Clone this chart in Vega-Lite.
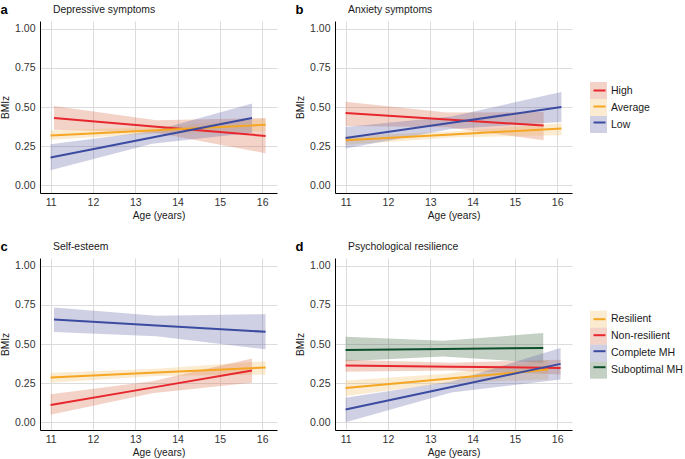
{
  "$schema": "https://vega.github.io/schema/vega-lite/v6.json",
  "padding": {"left": 0, "top": 3, "right": 0, "bottom": 0},
  "data": {"values": [
    {"p": "a", "g": "High", "x": 11.08, "y": 0.43, "lo": 0.354, "hi": 0.506},
    {"p": "a", "g": "High", "x": 13.5, "y": 0.374, "lo": 0.335, "hi": 0.415},
    {"p": "a", "g": "High", "x": 16.08, "y": 0.315, "lo": 0.204, "hi": 0.43},
    {"p": "a", "g": "Average", "x": 11.0, "y": 0.317, "lo": 0.29, "hi": 0.35},
    {"p": "a", "g": "Average", "x": 13.5, "y": 0.351, "lo": 0.33, "hi": 0.372},
    {"p": "a", "g": "Average", "x": 16.08, "y": 0.387, "lo": 0.345, "hi": 0.425},
    {"p": "a", "g": "Low", "x": 11.0, "y": 0.177, "lo": 0.096, "hi": 0.262},
    {"p": "a", "g": "Low", "x": 13.4, "y": 0.305, "lo": 0.265, "hi": 0.345},
    {"p": "a", "g": "Low", "x": 15.76, "y": 0.43, "lo": 0.336, "hi": 0.523},
    {"p": "b", "g": "High", "x": 11.0, "y": 0.462, "lo": 0.379, "hi": 0.534},
    {"p": "b", "g": "High", "x": 13.4, "y": 0.42, "lo": 0.37, "hi": 0.465},
    {"p": "b", "g": "High", "x": 15.68, "y": 0.381, "lo": 0.287, "hi": 0.468},
    {"p": "b", "g": "Average", "x": 11.0, "y": 0.287, "lo": 0.257, "hi": 0.315},
    {"p": "b", "g": "Average", "x": 13.5, "y": 0.324, "lo": 0.305, "hi": 0.343},
    {"p": "b", "g": "Average", "x": 16.1, "y": 0.362, "lo": 0.319, "hi": 0.396},
    {"p": "b", "g": "Low", "x": 11.0, "y": 0.302, "lo": 0.234, "hi": 0.372},
    {"p": "b", "g": "Low", "x": 13.5, "y": 0.399, "lo": 0.36, "hi": 0.44},
    {"p": "b", "g": "Low", "x": 16.1, "y": 0.5, "lo": 0.404, "hi": 0.596},
    {"p": "c", "g": "Low", "x": 11.08, "y": 0.657, "lo": 0.576, "hi": 0.733},
    {"p": "c", "g": "Low", "x": 13.5, "y": 0.619, "lo": 0.55, "hi": 0.68},
    {"p": "c", "g": "Low", "x": 16.08, "y": 0.578, "lo": 0.466, "hi": 0.691},
    {"p": "c", "g": "Average", "x": 11.0, "y": 0.286, "lo": 0.252, "hi": 0.316},
    {"p": "c", "g": "Average", "x": 13.5, "y": 0.318, "lo": 0.295, "hi": 0.342},
    {"p": "c", "g": "Average", "x": 16.08, "y": 0.35, "lo": 0.305, "hi": 0.39},
    {"p": "c", "g": "High", "x": 11.0, "y": 0.11, "lo": 0.047, "hi": 0.178},
    {"p": "c", "g": "High", "x": 13.4, "y": 0.221, "lo": 0.185, "hi": 0.262},
    {"p": "c", "g": "High", "x": 15.76, "y": 0.331, "lo": 0.252, "hi": 0.407},
    {"p": "d", "g": "Suboptimal MH", "x": 11.0, "y": 0.462, "lo": 0.39, "hi": 0.547},
    {"p": "d", "g": "Suboptimal MH", "x": 13.3, "y": 0.468, "lo": 0.42, "hi": 0.52},
    {"p": "d", "g": "Suboptimal MH", "x": 15.67, "y": 0.475, "lo": 0.379, "hi": 0.57},
    {"p": "d", "g": "Non-resilient", "x": 11.0, "y": 0.362, "lo": 0.322, "hi": 0.4},
    {"p": "d", "g": "Non-resilient", "x": 13.5, "y": 0.355, "lo": 0.33, "hi": 0.38},
    {"p": "d", "g": "Non-resilient", "x": 16.08, "y": 0.347, "lo": 0.305, "hi": 0.4},
    {"p": "d", "g": "Resilient", "x": 11.0, "y": 0.218, "lo": 0.167, "hi": 0.267},
    {"p": "d", "g": "Resilient", "x": 13.4, "y": 0.278, "lo": 0.25, "hi": 0.31},
    {"p": "d", "g": "Resilient", "x": 15.79, "y": 0.337, "lo": 0.273, "hi": 0.4},
    {"p": "d", "g": "Complete MH", "x": 11.0, "y": 0.081, "lo": 0.0, "hi": 0.157},
    {"p": "d", "g": "Complete MH", "x": 13.5, "y": 0.225, "lo": 0.19, "hi": 0.26},
    {"p": "d", "g": "Complete MH", "x": 16.08, "y": 0.373, "lo": 0.273, "hi": 0.475}
  ]},
  "spacing": 19,
  "resolve": {"scale": {"fill": "independent", "stroke": "independent"}, "legend": {"fill": "independent", "stroke": "independent"}},
  "vconcat": [
    {
      "spacing": 18,
      "resolve": {"scale": {"fill": "independent", "stroke": "independent"}, "legend": {"fill": "independent", "stroke": "independent"}},
      "hconcat": [
        {
          "title": {"text": "a"},
          "resolve": {"scale": {"fill": "independent", "stroke": "independent"}, "legend": {"fill": "independent", "stroke": "independent"}},
          "vconcat": [
            {
              "title": {"text": "Depressive symptoms", "fontSize": 10.4, "fontWeight": "normal", "color": "#1a1a1a", "frame": "group", "dx": 13, "offset": 6},
              "width": 237, "height": 172,
              "transform": [{"filter": "datum.p === 'a'"}],
              "layer": [
                {
                  "mark": {"type": "area", "opacity": 0.3},
                  "encoding": {
                    "x": {"field": "x", "type": "quantitative", "scale": {"domain": [10.75, 16.35], "nice": false, "zero": false}, "axis": {"values": [11, 12, 13, 14, 15, 16], "title": "Age (years)"}},
                    "y": {"field": "lo", "type": "quantitative", "scale": {"domain": [-0.05, 1.05], "nice": false, "zero": false}, "axis": {"values": [0, 0.25, 0.5, 0.75, 1], "format": ".2f", "title": "BMIz"}},
                    "y2": {"field": "hi"},
                    "fill": {"field": "g", "type": "nominal", "scale": {"domain": ["Low", "Average", "High"], "range": ["#6262A5", "#F2BC62", "#D76C48"]}, "legend": null}
                  }
                },
                {
                  "mark": {"type": "line", "strokeWidth": 2},
                  "encoding": {
                    "x": {"field": "x", "type": "quantitative", "scale": {"domain": [10.75, 16.35], "nice": false, "zero": false}, "axis": {"values": [11, 12, 13, 14, 15, 16], "title": "Age (years)"}},
                    "y": {"field": "y", "type": "quantitative", "scale": {"domain": [-0.05, 1.05], "nice": false, "zero": false}, "axis": {"values": [0, 0.25, 0.5, 0.75, 1], "format": ".2f", "title": "BMIz"}},
                    "stroke": {"field": "g", "type": "nominal", "scale": {"domain": ["High", "Average", "Low"], "range": ["#E8262D", "#F5A623", "#3B4BA0"]}, "legend": null}
                  }
                }
              ]
            }
          ]
        },
        {
          "title": {"text": "b"},
          "resolve": {"scale": {"fill": "independent", "stroke": "independent"}, "legend": {"fill": "independent", "stroke": "independent"}},
          "vconcat": [
            {
              "title": {"text": "Anxiety symptoms", "fontSize": 10.4, "fontWeight": "normal", "color": "#1a1a1a", "frame": "group", "dx": 13, "offset": 6},
              "width": 237, "height": 172,
              "transform": [{"filter": "datum.p === 'b'"}],
              "layer": [
                {
                  "mark": {"type": "area", "opacity": 0.3},
                  "encoding": {
                    "x": {"field": "x", "type": "quantitative", "scale": {"domain": [10.75, 16.35], "nice": false, "zero": false}, "axis": {"values": [11, 12, 13, 14, 15, 16], "title": "Age (years)"}},
                    "y": {"field": "lo", "type": "quantitative", "scale": {"domain": [-0.05, 1.05], "nice": false, "zero": false}, "axis": {"values": [0, 0.25, 0.5, 0.75, 1], "format": ".2f", "title": "BMIz"}},
                    "y2": {"field": "hi"},
                    "fill": {"field": "g", "type": "nominal", "scale": {"domain": ["Low", "Average", "High"], "range": ["#6262A5", "#F2BC62", "#D76C48"]},
                      "legend": {"values": ["High", "Average", "Low"], "orient": "none", "legendX": 255, "legendY": 61, "title": null, "symbolType": "square", "symbolSize": 289, "symbolStrokeWidth": 0, "symbolOpacity": 0.3, "rowPadding": 0, "labelOffset": 4, "padding": 0}}
                  }
                },
                {
                  "mark": {"type": "line", "strokeWidth": 2},
                  "encoding": {
                    "x": {"field": "x", "type": "quantitative", "scale": {"domain": [10.75, 16.35], "nice": false, "zero": false}, "axis": {"values": [11, 12, 13, 14, 15, 16], "title": "Age (years)"}},
                    "y": {"field": "y", "type": "quantitative", "scale": {"domain": [-0.05, 1.05], "nice": false, "zero": false}, "axis": {"values": [0, 0.25, 0.5, 0.75, 1], "format": ".2f", "title": "BMIz"}},
                    "stroke": {"field": "g", "type": "nominal", "scale": {"domain": ["High", "Average", "Low"], "range": ["#E8262D", "#F5A623", "#3B4BA0"]},
                      "legend": {"orient": "none", "legendX": 257.5, "legendY": 62.5, "title": null, "symbolType": "stroke", "symbolSize": 144, "symbolStrokeWidth": 2, "rowPadding": 3, "labelExpr": "''", "padding": 0}}
                  }
                }
              ]
            }
          ]
        }
      ]
    },
    {
      "spacing": 18,
      "resolve": {"scale": {"fill": "independent", "stroke": "independent"}, "legend": {"fill": "independent", "stroke": "independent"}},
      "hconcat": [
        {
          "title": {"text": "c"},
          "resolve": {"scale": {"fill": "independent", "stroke": "independent"}, "legend": {"fill": "independent", "stroke": "independent"}},
          "vconcat": [
            {
              "title": {"text": "Self-esteem", "fontSize": 10.4, "fontWeight": "normal", "color": "#1a1a1a", "frame": "group", "dx": 13, "offset": 6},
              "width": 237, "height": 172,
              "transform": [{"filter": "datum.p === 'c'"}],
              "layer": [
                {
                  "mark": {"type": "area", "opacity": 0.3},
                  "encoding": {
                    "x": {"field": "x", "type": "quantitative", "scale": {"domain": [10.75, 16.35], "nice": false, "zero": false}, "axis": {"values": [11, 12, 13, 14, 15, 16], "title": "Age (years)"}},
                    "y": {"field": "lo", "type": "quantitative", "scale": {"domain": [-0.05, 1.05], "nice": false, "zero": false}, "axis": {"values": [0, 0.25, 0.5, 0.75, 1], "format": ".2f", "title": "BMIz"}},
                    "y2": {"field": "hi"},
                    "fill": {"field": "g", "type": "nominal", "scale": {"domain": ["Low", "Average", "High"], "range": ["#6262A5", "#F2BC62", "#D76C48"]}, "legend": null}
                  }
                },
                {
                  "mark": {"type": "line", "strokeWidth": 2},
                  "encoding": {
                    "x": {"field": "x", "type": "quantitative", "scale": {"domain": [10.75, 16.35], "nice": false, "zero": false}, "axis": {"values": [11, 12, 13, 14, 15, 16], "title": "Age (years)"}},
                    "y": {"field": "y", "type": "quantitative", "scale": {"domain": [-0.05, 1.05], "nice": false, "zero": false}, "axis": {"values": [0, 0.25, 0.5, 0.75, 1], "format": ".2f", "title": "BMIz"}},
                    "stroke": {"field": "g", "type": "nominal", "scale": {"domain": ["High", "Average", "Low"], "range": ["#E8262D", "#F5A623", "#3B4BA0"]}, "legend": null}
                  }
                }
              ]
            }
          ]
        },
        {
          "title": {"text": "d"},
          "resolve": {"scale": {"fill": "independent", "stroke": "independent"}, "legend": {"fill": "independent", "stroke": "independent"}},
          "vconcat": [
            {
              "title": {"text": "Psychological resilience", "fontSize": 10.4, "fontWeight": "normal", "color": "#1a1a1a", "frame": "group", "dx": 13, "offset": 6},
              "width": 237, "height": 172,
              "transform": [{"filter": "datum.p === 'd'"}],
              "layer": [
                {
                  "mark": {"type": "area", "opacity": 0.3},
                  "encoding": {
                    "x": {"field": "x", "type": "quantitative", "scale": {"domain": [10.75, 16.35], "nice": false, "zero": false}, "axis": {"values": [11, 12, 13, 14, 15, 16], "title": "Age (years)"}},
                    "y": {"field": "lo", "type": "quantitative", "scale": {"domain": [-0.05, 1.05], "nice": false, "zero": false}, "axis": {"values": [0, 0.25, 0.5, 0.75, 1], "format": ".2f", "title": "BMIz"}},
                    "y2": {"field": "hi"},
                    "fill": {"field": "g", "type": "nominal", "scale": {"domain": ["Suboptimal MH", "Complete MH", "Non-resilient", "Resilient"], "range": ["#3A623A", "#6262A5", "#D76C48", "#F2BC62"]},
                      "legend": {"values": ["Resilient", "Non-resilient", "Complete MH", "Suboptimal MH"], "orient": "none", "legendX": 255, "legendY": 52.7, "title": null, "symbolType": "square", "symbolSize": 289, "symbolStrokeWidth": 0, "symbolOpacity": 0.3, "rowPadding": 0, "labelOffset": 4, "padding": 0}}
                  }
                },
                {
                  "mark": {"type": "line", "strokeWidth": 2},
                  "encoding": {
                    "x": {"field": "x", "type": "quantitative", "scale": {"domain": [10.75, 16.35], "nice": false, "zero": false}, "axis": {"values": [11, 12, 13, 14, 15, 16], "title": "Age (years)"}},
                    "y": {"field": "y", "type": "quantitative", "scale": {"domain": [-0.05, 1.05], "nice": false, "zero": false}, "axis": {"values": [0, 0.25, 0.5, 0.75, 1], "format": ".2f", "title": "BMIz"}},
                    "stroke": {"field": "g", "type": "nominal", "scale": {"domain": ["Resilient", "Non-resilient", "Complete MH", "Suboptimal MH"], "range": ["#F5A623", "#E8262D", "#3B4BA0", "#0C4F2B"]},
                      "legend": {"orient": "none", "legendX": 257.5, "legendY": 54.2, "title": null, "symbolType": "stroke", "symbolSize": 144, "symbolStrokeWidth": 2, "rowPadding": 3, "labelExpr": "''", "padding": 0}}
                  }
                }
              ]
            }
          ]
        }
      ]
    }
  ],
  "config": {
    "font": "Liberation Sans",
    "view": {"stroke": null},
    "axis": {
      "domainColor": "#000000",
      "domainWidth": 1,
      "ticks": false,
      "grid": true,
      "gridColor": "#dcdcdc",
      "gridWidth": 1,
      "labelFont": "Liberation Sans",
      "labelFontSize": 10.5,
      "labelColor": "#333333",
      "labelPadding": 5,
      "titleFont": "Liberation Sans",
      "titleFontSize": 10.2,
      "titleFontWeight": "normal",
      "titleColor": "#1a1a1a"
    },
    "axisX": {"labelPadding": 4, "titlePadding": 3, "labelFlush": false},
    "axisY": {"titlePadding": 4},
    "legend": {"labelFont": "Liberation Sans", "labelFontSize": 10.5, "labelColor": "#1a1a1a"},
    "title": {
      "anchor": "start",
      "frame": "bounds",
      "font": "Liberation Sans",
      "fontSize": 13,
      "fontWeight": "bold",
      "color": "#000000",
      "offset": -12
    }
  }
}
